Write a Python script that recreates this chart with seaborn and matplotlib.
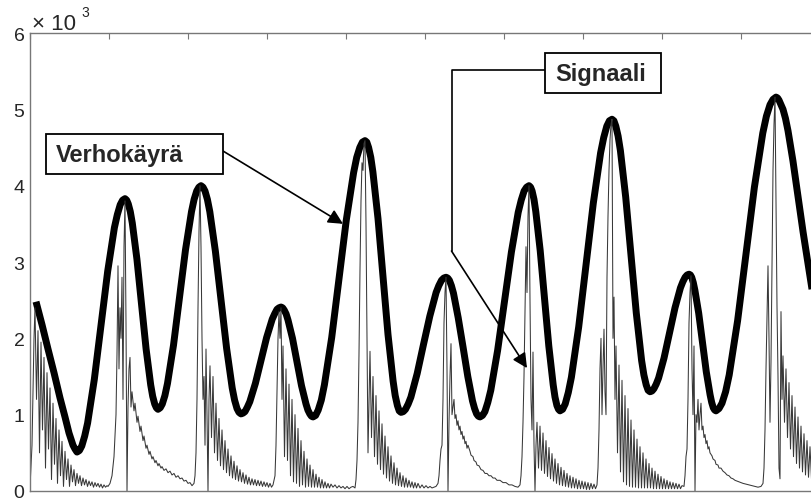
import numpy as np
import pandas as pd
import matplotlib
matplotlib.use("Agg")
import matplotlib.pyplot as plt
import seaborn as sns
from matplotlib.patches import Rectangle
from matplotlib.lines import Line2D

sns.set_style("white")
plt.rcParams['font.family'] = ['Liberation Sans', 'DejaVu Sans']

# Verhokäyrä (envelope), values x 10^3
env_x = [6, 12, 18, 24, 30, 35, 39, 41, 43, 45, 47,
         49.4, 51.8, 54.7, 57.6, 64.3, 71.0, 77.7, 84.4, 87.3, 90.2, 92.6, 95.0,
         96.7, 98.3, 100.3, 102.3, 106.9, 111.5, 116.1, 120.7, 122.7, 124.7, 126.4, 128.0,
         130.2, 132.3, 134.9, 137.5, 143.5, 149.5, 155.5, 161.5, 164.1, 166.7, 168.9, 171.0,
         173.0, 175.0, 177.4, 179.8, 185.4, 191.0, 196.6, 202.2, 204.6, 207.0, 209.0, 211.0,
         213.0, 215.0, 217.4, 219.8, 225.4, 231.0, 236.6, 242.2, 244.6, 247.0, 249.0, 251.0,
         252.6, 254.2, 256.1, 258.0, 262.5, 267.0, 271.5, 276.0, 277.9, 279.8, 281.4, 283.0,
         285.6, 288.2, 291.3, 294.4, 301.7, 309.0, 316.3, 323.6, 326.7, 329.8, 332.4, 335.0,
         336.8, 338.6, 340.8, 342.9, 348.0, 353.0, 358.0, 363.1, 365.2, 367.4, 369.2, 371.0,
         373.3, 375.5, 378.2, 380.9, 387.2, 393.5, 399.8, 406.1, 408.8, 411.5, 413.8, 416.0,
         417.7, 419.4, 421.4, 423.5, 428.2, 433.0, 437.8, 442.5, 444.6, 446.6, 448.3, 450.0,
         452.5, 454.9, 457.8, 460.8, 467.6, 474.5, 481.4, 488.2, 491.2, 494.1, 496.6, 499.0,
         500.6, 502.1, 504.0, 505.8, 510.2, 514.5, 518.8, 523.2, 525.0, 526.9, 528.5, 530.0,
         532.6, 535.2, 538.3, 541.4, 548.7, 556.0, 563.3, 570.6, 573.7, 576.8, 579.4, 582.0,
         583.9, 585.8, 588.1, 590.4, 595.7, 601.0, 606.3, 611.6, 613.9, 616.2, 618.1, 620.0,
         622.0, 623.9, 626.2, 628.6, 634.0, 639.5, 645.0, 650.4, 652.8, 655.1, 657.1, 659.0,
         660.4, 661.7, 663.3, 664.9, 668.7, 672.5, 676.3, 680.1, 681.7, 683.3, 684.7, 686.0,
         689.0, 692.0, 695.6, 699.2, 707.6, 716.0, 724.4, 732.8, 736.4, 740.0, 743.0, 746.0,
         747.5, 749.0, 751.0, 753.0, 755.5, 758.0, 763.0, 768.0, 773.0, 778.0, 783.0]
env_y = [2.48, 2.18, 1.86, 1.55, 1.22, 0.97, 0.76, 0.68, 0.60, 0.55, 0.51,
         0.53, 0.59, 0.72, 0.89, 1.46, 2.17, 2.88, 3.45, 3.62, 3.75, 3.81, 3.83,
         3.81, 3.76, 3.66, 3.51, 3.04, 2.45, 1.86, 1.39, 1.24, 1.14, 1.09, 1.07,
         1.09, 1.14, 1.25, 1.41, 1.91, 2.54, 3.16, 3.66, 3.82, 3.93, 3.98, 4.00,
         3.98, 3.93, 3.82, 3.66, 3.14, 2.51, 1.87, 1.35, 1.19, 1.08, 1.03, 1.01,
         1.02, 1.04, 1.10, 1.17, 1.41, 1.71, 2.01, 2.25, 2.32, 2.38, 2.40, 2.41,
         2.40, 2.37, 2.32, 2.24, 2.00, 1.69, 1.38, 1.14, 1.06, 1.01, 0.98, 0.97,
         0.99, 1.06, 1.19, 1.39, 2.01, 2.78, 3.55, 4.17, 4.37, 4.50, 4.57, 4.59,
         4.57, 4.50, 4.37, 4.18, 3.57, 2.81, 2.05, 1.44, 1.25, 1.12, 1.05, 1.03,
         1.04, 1.07, 1.14, 1.23, 1.54, 1.92, 2.29, 2.60, 2.69, 2.76, 2.79, 2.80,
         2.79, 2.76, 2.69, 2.59, 2.27, 1.89, 1.50, 1.18, 1.08, 1.01, 0.98, 0.97,
         0.99, 1.04, 1.16, 1.32, 1.84, 2.49, 3.13, 3.65, 3.81, 3.93, 3.98, 4.00,
         3.98, 3.93, 3.82, 3.66, 3.15, 2.53, 1.90, 1.39, 1.23, 1.12, 1.07, 1.05,
         1.07, 1.14, 1.29, 1.49, 2.15, 2.96, 3.77, 4.43, 4.63, 4.78, 4.85, 4.87,
         4.85, 4.78, 4.65, 4.46, 3.85, 3.09, 2.33, 1.71, 1.52, 1.39, 1.32, 1.30,
         1.31, 1.34, 1.40, 1.48, 1.74, 2.07, 2.40, 2.66, 2.74, 2.80, 2.83, 2.84,
         2.83, 2.80, 2.73, 2.63, 2.33, 1.95, 1.56, 1.26, 1.16, 1.09, 1.06, 1.05,
         1.08, 1.15, 1.30, 1.52, 2.23, 3.11, 3.98, 4.69, 4.91, 5.06, 5.13, 5.16,
         5.15, 5.12, 5.06, 5.00, 4.88, 4.72, 4.32, 3.86, 3.40, 2.98, 2.56]

# Signaali, one list of (sample, value) per beat
sig_b0 = [(0, 0.05), (2, 0.6), (4, 2.0), (5, 2.4), (6.5, 1.2), (8, 2.1), (9.5, 0.5), (11, 1.95), (12.5, 0.8),
          (14, 1.75), (15.5, 0.3), (17, 1.55), (18.5, 0.55), (20, 1.35), (21.5, 0.15), (23, 1.15),
          (24.5, 0.35), (26, 0.95), (27.5, 0.1), (29, 0.8), (30.5, 0.2), (32, 0.65), (33.5, 0.06),
          (35, 0.52), (36.5, 0.15), (38, 0.42), (39.5, 0.06), (41, 0.34), (42.5, 0.12), (44, 0.28),
          (45.5, 0.07), (47, 0.23), (48.5, 0.1), (50, 0.2), (51.5, 0.07), (53, 0.17), (54.5, 0.08),
          (56, 0.15), (57.5, 0.06), (59, 0.13), (60.5, 0.07), (62, 0.12), (63.5, 0.05), (65, 0.11),
          (66.5, 0.06), (68, 0.1), (69.5, 0.05), (71, 0.09), (72.5, 0.04), (74, 0.08), (75.5, 0.05),
          (77, 0.07)]
sig_b1 = [(78, 0.06), (80, 0.1), (82, 0.2), (84, 0.45), (86, 1.0), (87, 1.8), (88, 2.95), (89, 1.6),
          (90, 2.4), (91, 2.0), (92, 2.8), (93, 1.2), (94, 3.2), (95, 3.8), (96, 2.2), (97, 0.0),
          (98, 1.1), (99, 1.6), (100, 1.75), (101, 1.1), (102, 1.3), (104, 1.05), (105, 1.15), (107, 0.9),
          (108, 0.98), (110, 0.78), (111, 0.85), (113, 0.66), (114, 0.72), (116, 0.56), (117, 0.6),
          (119, 0.48), (120, 0.52), (122, 0.42), (123, 0.45), (125, 0.37), (126, 0.4), (128, 0.33),
          (129, 0.36), (131, 0.3), (132, 0.32), (134, 0.27), (136, 0.29), (138, 0.24), (140, 0.26),
          (142, 0.21), (144, 0.23), (146, 0.18), (148, 0.2), (150, 0.16), (152, 0.17), (154, 0.13),
          (156, 0.14), (158, 0.1), (160, 0.11), (162, 0.07), (164, 0.1)]
sig_b2 = [(165, 0.2), (166, 0.5), (167, 1.2), (168, 2.4), (169, 3.4), (170, 4.0), (171, 3.2), (172, 2.0),
          (173, 1.2), (174, 1.5), (175, 0.6), (176, 1.86), (177, 1.0), (178, 0.0), (179, 1.2), (180, 1.64),
          (181.5, 0.7), (183, 1.5), (184.5, 0.5), (186, 1.15), (187.5, 0.4), (189, 0.95), (190.5, 0.33),
          (192, 0.8), (193.5, 0.28), (195, 0.66), (196.5, 0.24), (198, 0.55), (199.5, 0.2), (201, 0.46),
          (202.5, 0.17), (204, 0.39), (205.5, 0.15), (207, 0.33), (208.5, 0.13), (210, 0.28),
          (211.5, 0.12), (213, 0.24), (214.5, 0.1), (216, 0.21), (217.5, 0.09), (219, 0.18), (220.5, 0.08),
          (222, 0.16), (223.5, 0.08), (225, 0.15), (226.5, 0.07), (228, 0.14), (229.5, 0.07), (231, 0.13),
          (232.5, 0.06), (234, 0.12), (235.5, 0.06), (237, 0.11), (238.5, 0.05), (240, 0.1), (241.5, 0.05),
          (243, 0.08)]
sig_b3 = [(245, 0.2), (246, 0.6), (247, 1.3), (248, 2.0), (249, 2.35), (250, 2.0), (251, 2.4), (252, 1.2),
          (253, 1.9), (254.5, 0.45), (256, 1.6), (257.5, 0.4), (259, 1.4), (260.5, 0.2), (262, 1.2),
          (263.5, 0.12), (265, 1.0), (266.5, 0.1), (268, 0.82), (269.5, 0.06), (271, 0.66), (272.5, 0.08),
          (274, 0.52), (275.5, 0.05), (277, 0.42), (278.5, 0.06), (280, 0.34), (281.5, 0.05), (283, 0.28),
          (284.5, 0.05), (286, 0.22), (287.5, 0.05), (289, 0.18), (290.5, 0.04), (292, 0.15), (293.5, 0.04),
          (295, 0.12), (296.5, 0.04), (298, 0.1), (299.5, 0.04), (301, 0.09), (303, 0.05), (305, 0.08),
          (307, 0.04), (309, 0.07), (311, 0.04), (313, 0.06), (315, 0.03), (317, 0.06), (319, 0.03),
          (321, 0.05), (323, 0.06), (325, 0.04)]
sig_b4 = [(326, 0.15), (327, 0.4), (328, 0.9), (329, 1.8), (330, 2.9), (331, 3.8), (332, 4.3), (333, 4.2),
          (334, 4.55), (335, 4.59), (336, 3.5), (337, 2.0), (338, 0.5), (339, 1.2), (340, 1.83), (341.5, 0.7),
          (343, 1.5), (344.5, 0.45), (346, 1.25), (347.5, 0.35), (349, 1.05), (350.5, 0.28), (352, 0.88),
          (353.5, 0.22), (355, 0.72), (356.5, 0.17), (358, 0.58), (359.5, 0.13), (361, 0.46), (362.5, 0.1),
          (364, 0.37), (365.5, 0.08), (367, 0.3), (368.5, 0.07), (370, 0.24), (371.5, 0.06), (373, 0.2),
          (374.5, 0.05), (376, 0.17), (377.5, 0.05), (379, 0.14), (380.5, 0.05), (382, 0.12), (383.5, 0.04),
          (385, 0.11), (386.5, 0.04), (388, 0.1), (390, 0.04), (392, 0.08), (394, 0.04), (396, 0.07),
          (398, 0.04), (400, 0.06), (402, 0.04), (404, 0.05)]
sig_b5 = [(406, 0.06), (408, 0.1), (409, 0.2), (410, 0.4), (411, 0.55), (412, 0.6), (413, 1.2), (414, 2.2),
          (415, 2.6), (416, 2.8), (417, 1.6), (418, 0.0), (419, 0.9), (420, 1.5), (421, 1.93), (422, 1.0),
          (423, 1.1), (424, 1.2), (425, 0.95), (426, 1.0), (427, 0.86), (428, 0.92), (429, 0.8),
          (430, 0.85), (431, 0.74), (432, 0.78), (433, 0.68), (434, 0.72), (435, 0.62), (436, 0.65),
          (437, 0.56), (438, 0.6), (440, 0.52), (441, 0.47), (443, 0.45), (444, 0.4), (446, 0.38),
          (447, 0.34), (449, 0.33), (451, 0.28), (453, 0.27), (455, 0.23), (457, 0.23), (459, 0.2),
          (461, 0.2), (463, 0.17), (465, 0.17), (467, 0.14), (470, 0.14), (473, 0.11), (476, 0.11),
          (479, 0.08), (482, 0.08), (485, 0.06), (488, 0.05)]
sig_b6 = [(490, 0.08), (491, 0.2), (492, 0.45), (493, 0.9), (494, 1.5), (495, 2.4), (496, 3.2), (497, 2.6),
          (498, 3.6), (499, 4.0), (500, 2.5), (501, 1.2), (502, 0.8), (503, 1.82), (504, 0.6), (505, 0.0),
          (506, 0.6), (507, 0.9), (508.5, 0.3), (510, 0.85), (511.5, 0.27), (513, 0.76), (514.5, 0.23),
          (516, 0.66), (517.5, 0.19), (519, 0.57), (520.5, 0.16), (522, 0.49), (523.5, 0.13), (525, 0.42),
          (526.5, 0.1), (528, 0.36), (529.5, 0.08), (531, 0.31), (532.5, 0.07), (534, 0.27), (535.5, 0.06),
          (537, 0.23), (538.5, 0.05), (540, 0.2), (541.5, 0.04), (543, 0.18), (544.5, 0.04), (546, 0.16),
          (547.5, 0.03), (549, 0.14), (550.5, 0.03), (552, 0.13), (553.5, 0.03), (555, 0.12), (556.5, 0.02),
          (558, 0.11), (559.5, 0.02), (561, 0.1), (562.5, 0.03), (564, 0.09), (565.5, 0.03), (567, 0.08)]
sig_b7 = [(568, 0.3), (569, 0.8), (570, 1.6), (571, 2.0), (572, 1.0), (573, 1.6), (574, 2.12), (575, 1.3),
          (576, 1.0), (577, 2.8), (578, 3.6), (579, 4.2), (580, 4.6), (581, 4.8), (582, 4.87), (583, 2.0),
          (584, 2.54), (585, 1.2), (586, 1.9), (587.5, 0.5), (589, 1.65), (590.5, 0.25), (592, 1.45),
          (593.5, 0.12), (595, 1.25), (596.5, 0.08), (598, 1.08), (599.5, 0.06), (601, 0.93), (602.5, 0.05),
          (604, 0.8), (605.5, 0.05), (607, 0.68), (608.5, 0.04), (610, 0.58), (611.5, 0.04), (613, 0.5),
          (614.5, 0.04), (616, 0.42), (617.5, 0.04), (619, 0.36), (620.5, 0.04), (622, 0.3), (623.5, 0.03),
          (625, 0.26), (626.5, 0.03), (628, 0.22), (629.5, 0.03), (631, 0.19), (632.5, 0.03), (634, 0.16),
          (635.5, 0.03), (637, 0.14), (638.5, 0.03), (640, 0.12), (641.5, 0.03), (643, 0.11), (644.5, 0.03),
          (646, 0.1), (647.5, 0.03), (649, 0.09), (650.5, 0.03), (652, 0.07)]
sig_b8 = [(654, 0.06), (655, 0.2), (656, 0.45), (657, 0.55), (658, 1.2), (659, 2.2), (660, 2.6), (661, 2.82),
          (662, 1.6), (663, 1.0), (664, 1.9), (665, 0.0), (666, 1.0), (667, 0.9), (668, 1.2), (669, 0.8),
          (670, 1.0), (671, 1.15), (672, 0.8), (673, 0.85), (674, 0.7), (675, 0.74), (676, 0.62),
          (677, 0.66), (678, 0.55), (679, 0.58), (680, 0.5), (682, 0.46), (683, 0.42), (685, 0.4),
          (686, 0.35), (688, 0.34), (689, 0.3), (691, 0.3), (693, 0.26), (695, 0.24), (697, 0.21),
          (699, 0.2), (701, 0.17), (703, 0.16), (705, 0.14), (707, 0.13), (709, 0.12), (711, 0.11),
          (713, 0.1), (716, 0.09), (719, 0.08), (722, 0.07), (725, 0.06), (728, 0.05), (731, 0.06)]
sig_b9 = [(733, 0.1), (734, 0.3), (735, 0.8), (736, 1.6), (737, 2.3), (738, 2.95), (739, 2.0), (740, 0.9),
          (741, 1.69), (742, 3.0), (743, 4.2), (744, 4.8), (745, 5.16), (746, 3.8), (747, 2.42), (748, 1.5),
          (749, 0.3), (750, 0.16), (751, 2.35), (752, 1.2), (753, 1.77), (754.5, 0.9), (756, 1.6),
          (757.5, 0.7), (759, 1.42), (760.5, 0.55), (762, 1.25), (763.5, 0.45), (765, 1.1), (766.5, 0.36),
          (768, 0.97), (769.5, 0.3), (771, 0.85), (772.5, 0.25), (774, 0.75), (775.5, 0.21), (777, 0.66),
          (778.5, 0.18), (780, 0.58), (781.5, 0.16), (783, 0.52)]

y_ticks = [0, 1, 2, 3, 4, 5, 6]
x_tick_step = 79.0

env = pd.DataFrame({'n': env_x, 'v': env_y})
sig = pd.DataFrame(sig_b0 + sig_b1 + sig_b2 + sig_b3 + sig_b4 + sig_b5 + sig_b6 + sig_b7 + sig_b8 + sig_b9,
                   columns=['n', 'v'])

W, H = 811, 502
fig = plt.figure(figsize=(W / 100, H / 100), dpi=100)
ax = fig.add_axes([30 / W, 10 / H, 781 / W, 458 / H])

sns.lineplot(data=env, x='n', y='v', ax=ax, color='black', linewidth=5.0,
             estimator=None, sort=False, solid_joinstyle='round', solid_capstyle='butt')
sns.lineplot(data=sig, x='n', y='v', ax=ax, color='#383838', linewidth=0.75,
             estimator=None, sort=False)

ax.set_xlim(0, 781)
ax.set_ylim(0, 6)
ax.set_xticks(np.arange(0, 781, x_tick_step))
ax.set_xticklabels([])
ax.set_yticks(y_ticks)
ax.set_yticklabels([str(t) for t in y_ticks])
ax.set_xlabel('')
ax.set_ylabel('')
ax.tick_params(direction='in', length=4, width=0.8, color='#777777', top=True, right=False,
               labelsize=14, pad=4)
for s in ['left', 'top', 'bottom']:
    ax.spines[s].set_color('#777777')
    ax.spines[s].set_linewidth(1.0)
ax.spines['right'].set_visible(False)

# exponent label
fig.text(32 / W, 1 - 30 / H, '\u00d7 10', fontsize=16, va='baseline', ha='left')
fig.text(81 / W, 1 - 17 / H, '3', fontsize=10, va='baseline', ha='left')

# Verhokäyrä label and arrow
fig.add_artist(Rectangle((46 / W, 1 - 175 / H), 177 / W, 40 / H, transform=fig.transFigure,
                         facecolor='white', edgecolor='black', linewidth=1.3, zorder=5))
fig.text(56 / W, 1 - 156 / H, 'Verhokäyrä', fontsize=17, fontweight='bold', va='center', ha='left',
         zorder=6)
ax.annotate('', xy=(313, 3.50), xycoords='data', xytext=(223 / W, 1 - 152 / H),
            textcoords='figure fraction',
            arrowprops=dict(arrowstyle='-|>', color='black', lw=1.2, mutation_scale=22,
                            shrinkA=0, shrinkB=0))

# Signaali label and arrow
fig.add_artist(Rectangle((545 / W, 1 - 94 / H), 116 / W, 40 / H, transform=fig.transFigure,
                         facecolor='white', edgecolor='black', linewidth=1.3, zorder=5))
fig.text(555 / W, 1 - 75 / H, 'Signaali', fontsize=17, fontweight='bold', va='center', ha='left',
         zorder=6)
fig.add_artist(Line2D([545 / W, 451.5 / W, 451.5 / W], [1 - 71 / H, 1 - 71 / H, 1 - 252 / H],
                      transform=fig.transFigure, color='black', linewidth=1.2))
ax.annotate('', xy=(497, 1.61), xycoords='data', xytext=(451.5 / W, 1 - 252 / H),
            textcoords='figure fraction',
            arrowprops=dict(arrowstyle='-|>', color='black', lw=1.2, mutation_scale=22,
                            shrinkA=0, shrinkB=0))

fig.savefig('out.png', dpi=100)
